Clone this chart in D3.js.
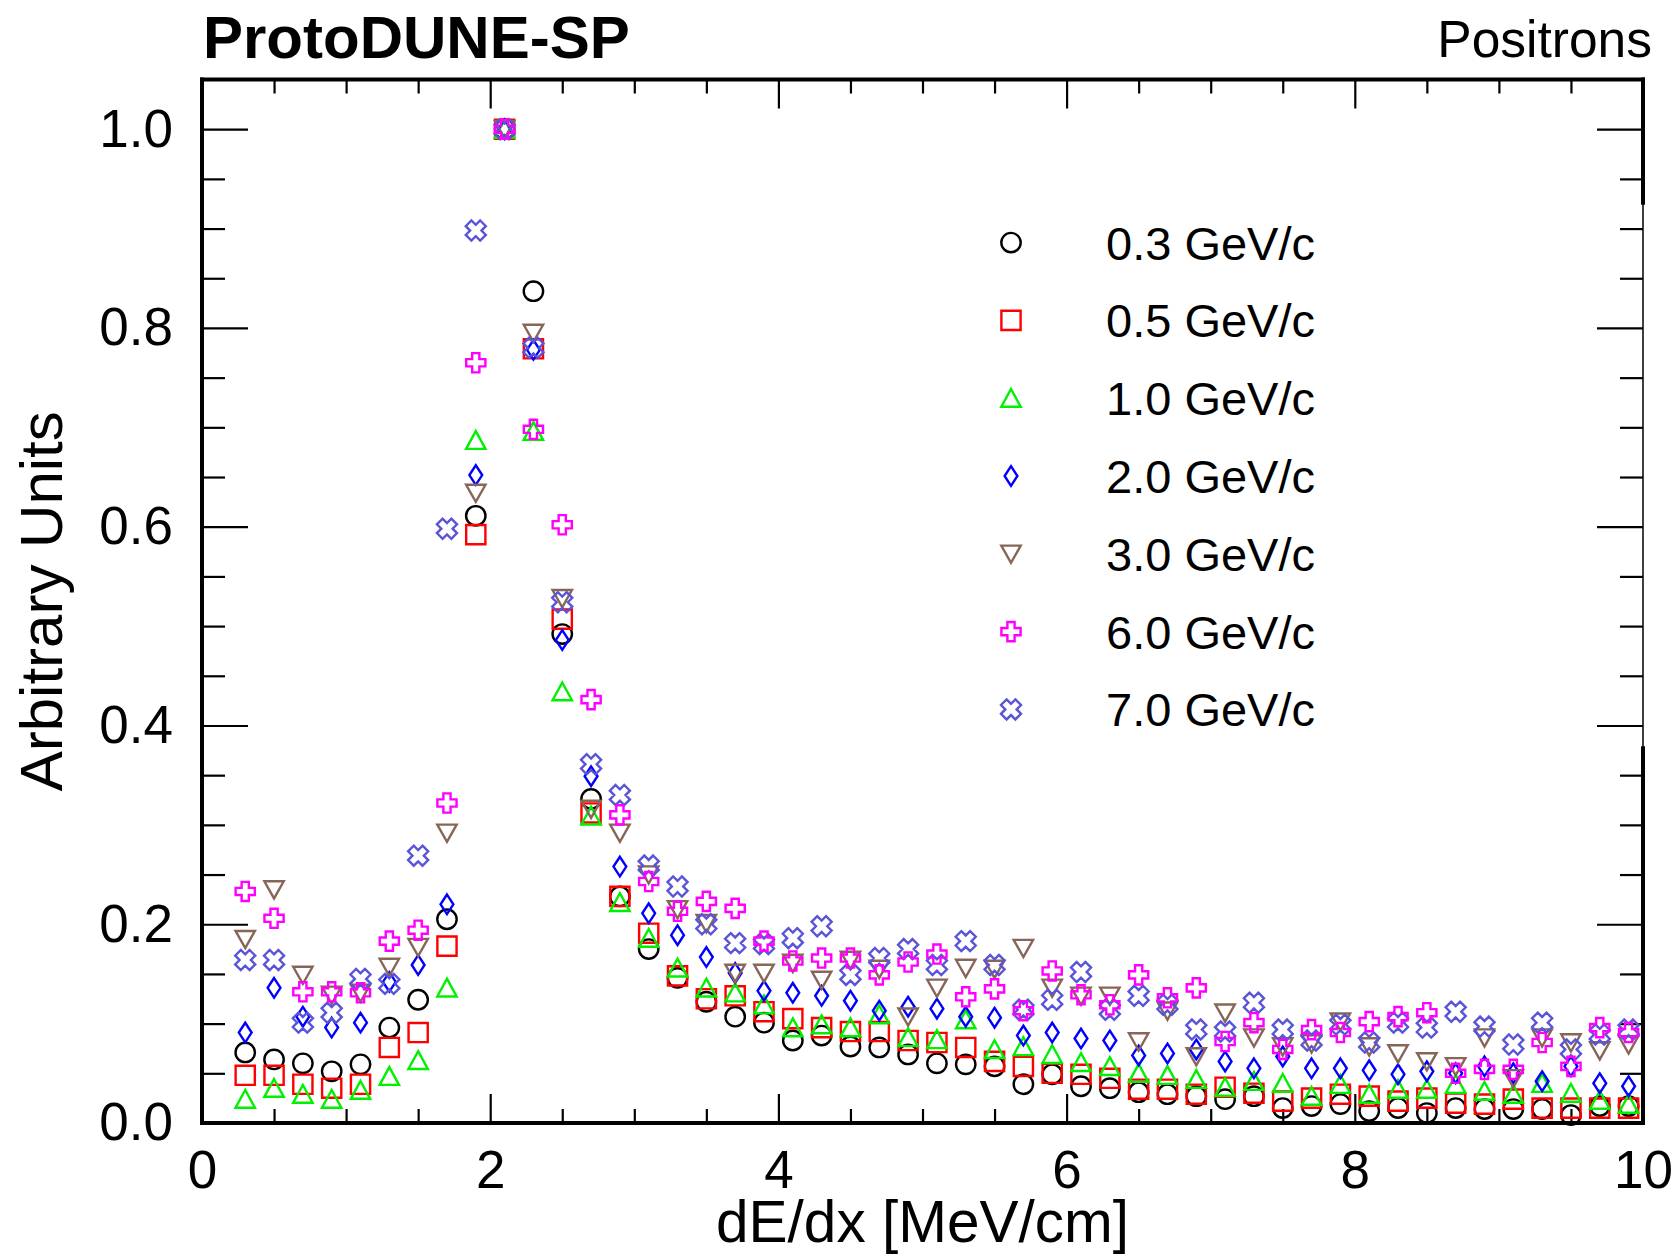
<!DOCTYPE html>
<html>
<head>
<meta charset="utf-8">
<script src="https://cdn.jsdelivr.net/npm/d3@7"></script>
<style>
  html, body { margin: 0; padding: 0; background: #ffffff; }
  svg text { font-family: "Liberation Sans", Arial, Helvetica, sans-serif; fill: #000; }
</style>
</head>
<body>
<svg id="chart" width="1676" height="1256"></svg>
<script>
// dE/dx bin centres [MeV/cm]
const dedx = [0.3, 0.5, 0.7, 0.9, 1.1, 1.3, 1.5, 1.7, 1.9, 2.1, 2.3, 2.5, 2.7, 2.9, 3.1, 3.3, 3.5,
  3.7, 3.9, 4.1, 4.3, 4.5, 4.7, 4.9, 5.1, 5.3, 5.5, 5.7, 5.9, 6.1, 6.3, 6.5, 6.7, 6.9, 7.1, 7.3,
  7.5, 7.7, 7.9, 8.1, 8.3, 8.5, 8.7, 8.9, 9.1, 9.3, 9.5, 9.7, 9.9];

// Normalised dE/dx distributions, one per beam momentum
const p03 = [0.071, 0.064, 0.060, 0.052, 0.059, 0.096, 0.124, 0.205, 0.611, 1.000, 0.837, 0.492,
  0.326, 0.228, 0.175, 0.146, 0.122, 0.107, 0.101, 0.083, 0.088, 0.077, 0.076, 0.069, 0.060, 0.059,
  0.057, 0.039, 0.049, 0.037, 0.035, 0.031, 0.029, 0.027, 0.024, 0.027, 0.015, 0.017, 0.019, 0.012,
  0.015, 0.010, 0.015, 0.014, 0.014, 0.014, 0.008, 0.017, 0.017];
const p05 = [0.048, 0.048, 0.039, 0.035, 0.039, 0.076, 0.091, 0.178, 0.592, 1.000, 0.779, 0.507,
  0.312, 0.228, 0.191, 0.148, 0.125, 0.128, 0.112, 0.105, 0.096, 0.092, 0.092, 0.083, 0.081, 0.076,
  0.062, 0.057, 0.050, 0.049, 0.045, 0.034, 0.034, 0.029, 0.036, 0.030, 0.022, 0.025, 0.029, 0.027,
  0.022, 0.025, 0.020, 0.019, 0.024, 0.015, 0.015, 0.015, 0.015];
const p10 = [0.024, 0.035, 0.029, 0.024, 0.033, 0.047, 0.063, 0.136, 0.687, 1.000, 0.696, 0.434,
  0.309, 0.222, 0.186, 0.156, 0.136, 0.131, 0.119, 0.096, 0.099, 0.096, 0.109, 0.086, 0.084, 0.104,
  0.074, 0.077, 0.069, 0.061, 0.057, 0.050, 0.048, 0.044, 0.036, 0.042, 0.040, 0.027, 0.039, 0.029,
  0.034, 0.034, 0.039, 0.032, 0.029, 0.040, 0.030, 0.023, 0.019];
const p20 = [0.091, 0.136, 0.107, 0.096, 0.101, 0.142, 0.159, 0.220, 0.652, 1.000, 0.778, 0.486,
  0.349, 0.258, 0.211, 0.189, 0.167, 0.151, 0.133, 0.131, 0.128, 0.123, 0.113, 0.117, 0.115, 0.107,
  0.106, 0.088, 0.091, 0.085, 0.083, 0.068, 0.070, 0.074, 0.062, 0.055, 0.067, 0.055, 0.055, 0.053,
  0.049, 0.052, 0.050, 0.057, 0.050, 0.042, 0.057, 0.040, 0.037];
const p30 = [0.185, 0.235, 0.149, 0.129, 0.131, 0.157, 0.177, 0.292, 0.634, 1.000, 0.795, 0.528,
  0.316, 0.292, 0.250, 0.215, 0.201, 0.151, 0.151, 0.161, 0.144, 0.164, 0.155, 0.107, 0.136, 0.156,
  0.155, 0.176, 0.136, 0.128, 0.128, 0.082, 0.113, 0.067, 0.111, 0.086, 0.077, 0.080, 0.102, 0.077,
  0.070, 0.062, 0.057, 0.086, 0.045, 0.086, 0.081, 0.073, 0.079];
const p60 = [0.233, 0.206, 0.132, 0.132, 0.131, 0.183, 0.194, 0.322, 0.765, 1.000, 0.698, 0.602,
  0.426, 0.310, 0.243, 0.213, 0.223, 0.216, 0.183, 0.163, 0.166, 0.166, 0.149, 0.162, 0.170, 0.127,
  0.135, 0.113, 0.153, 0.129, 0.119, 0.149, 0.126, 0.136, 0.082, 0.101, 0.074, 0.094, 0.091, 0.102,
  0.107, 0.111, 0.050, 0.054, 0.054, 0.081, 0.057, 0.096, 0.091];
const p70 = [0.164, 0.164, 0.101, 0.111, 0.145, 0.140, 0.269, 0.598, 0.898, 1.000, 0.780, 0.524,
  0.361, 0.330, 0.259, 0.238, 0.200, 0.181, 0.180, 0.186, 0.198, 0.149, 0.166, 0.175, 0.159, 0.183,
  0.159, 0.114, 0.124, 0.152, 0.114, 0.128, 0.119, 0.094, 0.092, 0.121, 0.094, 0.083, 0.099, 0.081,
  0.101, 0.096, 0.112, 0.097, 0.079, 0.101, 0.074, 0.089, 0.094];

const seriesLabels = ["0.3 GeV/c", "0.5 GeV/c", "1.0 GeV/c", "2.0 GeV/c", "3.0 GeV/c", "6.0 GeV/c", "7.0 GeV/c"];
const xTickValues = [0, 2, 4, 6, 8, 10];
const yTickValues = [0, 0.2, 0.4, 0.6, 0.8, 1.0];

(function () {
  // ---- styling -------------------------------------------------------------
  const seriesStyle = [
    { color: "#000000", shape: "circle" },
    { color: "#ff0000", shape: "square" },
    { color: "#00f000", shape: "triangleUp" },
    { color: "#0000ff", shape: "diamond" },
    { color: "#876657", shape: "triangleDown" },
    { color: "#ff00ff", shape: "openCross" },
    { color: "#5954d8", shape: "openX" }
  ];
  const seriesValues = [p03, p05, p10, p20, p30, p60, p70];
  // drawing order: the 7 GeV/c crosses sit beneath the 6 GeV/c crosses
  const drawOrder = [0, 1, 2, 3, 4, 6, 5];

  function crossPoints(r, a) {
    return [[-a, -r], [a, -r], [a, -a], [r, -a], [r, a], [a, a], [a, r], [-a, r], [-a, a], [-r, a], [-r, -a], [-a, -a]];
  }
  function poly(pts) { return "M" + pts.map(p => p[0].toFixed(2) + "," + p[1].toFixed(2)).join("L") + "Z"; }

  const shapePath = {
    circle: () => { const r = 9.7; return `M${r},0A${r},${r} 0 1,1 ${-r},0A${r},${r} 0 1,1 ${r},0Z`; },
    square: () => poly([[-9.6, -9.6], [9.6, -9.6], [9.6, 9.6], [-9.6, 9.6]]),
    triangleUp: () => poly([[0, -9.2], [9.7, 8.6], [-9.7, 8.6]]),
    triangleDown: () => poly([[-9.7, -8.2], [9.7, -8.2], [0, 9.0]]),
    diamond: () => poly([[0, -9.8], [6.4, 0], [0, 9.8], [-6.4, 0]]),
    openCross: () => poly(crossPoints(9.6, 3.6)),
    openX: () => {
      const c = Math.SQRT1_2;
      return poly(crossPoints(10.2, 4.0).map(([px, py]) => [(px - py) * c, (px + py) * c]));
    }
  };

  // ---- frame and scales ------------------------------------------------------
  const svg = d3.select("#chart");
  const plotLeft = 202, plotRight = 1643, plotTop = 79.5, plotBottom = 1123;
  const x = d3.scaleLinear().domain([0, 10]).range([plotLeft, plotRight]);
  const y = d3.scaleLinear().domain([0, 1.05]).range([plotBottom, plotTop]);

  const tickFont = 53;
  const axes = svg.append("g").attr("class", "axes");

  function styleAxis(g) {
    g.select(".domain").remove();
    g.selectAll(".tick line").attr("stroke", "#000").attr("stroke-width", 2.2);
    g.selectAll(".tick text").attr("font-size", tickFont).attr("fill", "#000")
      .attr("font-family", '"Liberation Sans", Arial, Helvetica, sans-serif');
  }

  const xMinor = d3.range(0, 10.001, 0.5).filter(v => Math.abs(v / 2 - Math.round(v / 2)) > 1e-6);
  const yMinor = d3.range(0, 1.0501, 0.05).filter(v => Math.abs(v / 0.2 - Math.round(v / 0.2)) > 1e-6 && v < 1.04);

  // bottom
  axes.append("g").attr("transform", `translate(0,${plotBottom})`)
    .call(d3.axisBottom(x).tickValues(xTickValues).tickSize(-29).tickPadding(27).tickFormat(d3.format("d")))
    .call(styleAxis);
  axes.append("g").attr("transform", `translate(0,${plotBottom})`)
    .call(d3.axisBottom(x).tickValues(xMinor).tickSize(-14).tickFormat(""))
    .call(styleAxis);
  // top
  axes.append("g").attr("transform", `translate(0,${plotTop})`)
    .call(d3.axisTop(x).tickValues(xTickValues).tickSize(-29).tickFormat(""))
    .call(styleAxis);
  axes.append("g").attr("transform", `translate(0,${plotTop})`)
    .call(d3.axisTop(x).tickValues(xMinor).tickSize(-14).tickFormat(""))
    .call(styleAxis);
  // left
  axes.append("g").attr("transform", `translate(${plotLeft},0)`)
    .call(d3.axisLeft(y).tickValues(yTickValues).tickSize(-46).tickPadding(29).tickFormat(d3.format(".1f")))
    .call(styleAxis);
  axes.append("g").attr("transform", `translate(${plotLeft},0)`)
    .call(d3.axisLeft(y).tickValues(yMinor).tickSize(-23).tickFormat(""))
    .call(styleAxis);
  // right
  axes.append("g").attr("transform", `translate(${plotRight},0)`)
    .call(d3.axisRight(y).tickValues(yTickValues).tickSize(-46).tickFormat(""))
    .call(styleAxis);
  axes.append("g").attr("transform", `translate(${plotRight},0)`)
    .call(d3.axisRight(y).tickValues(yMinor).tickSize(-23).tickFormat(""))
    .call(styleAxis);

  // frame
  const frame = svg.append("g").attr("stroke", "#000").attr("fill", "none").attr("stroke-linecap", "square");
  frame.append("line").attr("x1", plotLeft).attr("x2", plotLeft).attr("y1", plotTop).attr("y2", plotBottom).attr("stroke-width", 4);
  frame.append("line").attr("x1", plotLeft).attr("x2", plotRight).attr("y1", plotBottom).attr("y2", plotBottom).attr("stroke-width", 4);
  frame.append("line").attr("x1", plotLeft).attr("x2", plotRight).attr("y1", plotTop).attr("y2", plotTop).attr("stroke-width", 4);
  frame.append("line").attr("x1", plotRight).attr("x2", plotRight).attr("y1", plotTop).attr("y2", plotBottom).attr("stroke-width", 1.5);
  frame.append("line").attr("x1", plotRight).attr("x2", plotRight).attr("y1", plotTop).attr("y2", y(0.926)).attr("stroke-width", 4);
  frame.append("line").attr("x1", plotRight).attr("x2", plotRight).attr("y1", y(0.377)).attr("y2", plotBottom).attr("stroke-width", 4);

  // ---- data points -------------------------------------------------------------
  const pts = svg.append("g").attr("class", "points");
  drawOrder.forEach(si => {
    const st = seriesStyle[si];
    const path = shapePath[st.shape]();
    pts.append("g")
      .selectAll("path")
      .data(seriesValues[si].map((v, i) => ({ x: dedx[i], v })))
      .join("path")
      .attr("transform", d => `translate(${x(d.x)},${y(d.v)})`)
      .attr("d", path)
      .attr("fill", "none")
      .attr("stroke", st.color)
      .attr("stroke-width", 2.4)
      .attr("stroke-linejoin", "miter");
  });

  // ---- legend ------------------------------------------------------------------
  const legend = svg.append("g").attr("class", "legend");
  const legRowY0 = 242.6, legRowStep = 77.8, legMarkX = 1011, legTextX = 1106, legFont = 47;
  seriesLabels.forEach((lab, i) => {
    const st = seriesStyle[i];
    const yy = legRowY0 + i * legRowStep;
    legend.append("path")
      .attr("transform", `translate(${legMarkX},${yy})`)
      .attr("d", shapePath[st.shape]())
      .attr("fill", "none").attr("stroke", st.color).attr("stroke-width", 2.4);
    legend.append("text")
      .attr("x", legTextX).attr("y", yy).attr("dy", "0.36em")
      .attr("font-size", legFont)
      .text(lab);
  });

  // ---- titles ------------------------------------------------------------------
  svg.append("text").attr("x", 203).attr("y", 58)
    .attr("font-size", 60).attr("font-weight", "bold").text("ProtoDUNE-SP");
  svg.append("text").attr("x", 1652).attr("y", 57).attr("text-anchor", "end")
    .attr("font-size", 51.5).text("Positrons");
  svg.append("text").attr("x", (plotLeft + plotRight) / 2).attr("y", 1242).attr("text-anchor", "middle")
    .attr("font-size", 58.5).text("dE/dx [MeV/cm]");
  svg.append("text").attr("transform", `translate(62,${(plotTop + plotBottom) / 2}) rotate(-90)`)
    .attr("text-anchor", "middle").attr("font-size", 60).text("Arbitrary Units");
})();
</script>
</body>
</html>
